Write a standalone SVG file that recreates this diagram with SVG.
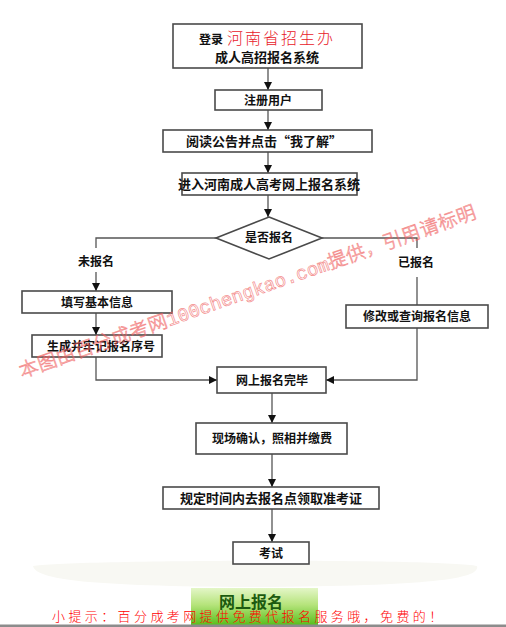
<svg xmlns="http://www.w3.org/2000/svg" width="506" height="627" viewBox="0 0 506 627">
<defs>
<style>
.box{fill:#fff;stroke:#4a4a4a;stroke-width:1.6}
.t{font-family:"Noto Sans CJK SC","Liberation Sans",sans-serif;font-size:12px;font-weight:700;fill:#111;text-anchor:middle}
.c{fill:none;stroke:#555;stroke-width:1.3}
</style>
<marker id="ah" viewBox="0 0 10 10" refX="10" refY="5" markerWidth="8" markerHeight="8" markerUnits="userSpaceOnUse" orient="auto">
<path d="M0,0 L10,5 L0,10 Z" fill="#111"/>
</marker>
<linearGradient id="gb" x1="0" y1="0" x2="0" y2="1">
<stop offset="0" stop-color="#e4f6c8"/>
<stop offset="0.45" stop-color="#b6e47c"/>
<stop offset="1" stop-color="#58bf1c"/>
</linearGradient>
</defs>
<rect width="506" height="627" fill="#fff"/>
<path d="M33,566 C60,560 440,558 477,566 C480,578 440,586 250,587 C90,586 36,580 33,566 Z" fill="#f8f8f3"/>

<g id="connectors">
<line class="c" x1="268" y1="68" x2="268" y2="90" marker-end="url(#ah)"/>
<line class="c" x1="268" y1="110" x2="268" y2="130" marker-end="url(#ah)"/>
<line class="c" x1="268" y1="152" x2="268" y2="173" marker-end="url(#ah)"/>
<line class="c" x1="268" y1="195" x2="268" y2="217" marker-end="url(#ah)"/>
<polyline class="c" points="216,238 96,238 96,248"/>
<line class="c" x1="96" y1="272" x2="96" y2="291" marker-end="url(#ah)"/>
<polyline class="c" points="322,238 417,238 417,248"/>
<line class="c" x1="417" y1="277" x2="417" y2="305"/>
<line class="c" x1="96" y1="313" x2="96" y2="335" marker-end="url(#ah)"/>
<polyline class="c" points="96,357 96,380 217,380" marker-end="url(#ah)"/>
<polyline class="c" points="417,328 417,380 326,380" marker-end="url(#ah)"/>
<line class="c" x1="272" y1="393" x2="272" y2="423" marker-end="url(#ah)"/>
<line class="c" x1="272" y1="454" x2="272" y2="487" marker-end="url(#ah)"/>
<line class="c" x1="272" y1="509" x2="272" y2="542" marker-end="url(#ah)"/>
</g>

<g id="n-login">
<rect class="box" x="173" y="24" width="189" height="44"/>
<text x="199" y="44" font-family="Noto Sans CJK SC,sans-serif" font-size="12" font-weight="700" fill="#111">登录<tspan font-size="16" font-weight="300" fill="#e8202a" letter-spacing="2" dx="4">河南省招生办</tspan></text>
<text class="t" x="267" y="62" style="font-size:13px">成人高招报名系统</text>
</g>
<g id="n-register">
<rect class="box" x="215" y="90" width="107" height="20"/>
<text class="t" x="268" y="104.5">注册用户</text>
</g>
<g id="n-read">
<rect class="box" x="163" y="130" width="209" height="22"/>
<text class="t" x="264" y="146" style="font-size:13px">阅读公告并点击“我了解”</text>
</g>
<g id="n-enter">
<rect class="box" x="182" y="173" width="175" height="22"/>
<text class="t" x="269" y="189" style="font-size:13px">进入河南成人高考网上报名系统</text>
</g>
<g id="n-decide">
<polygon points="269,217 322,238 269,259 216,238" fill="#fff" stroke="#4a4a4a" stroke-width="1.6"/>
<text class="t" x="269" y="242">是否报名</text>
</g>
<g id="l-no"><text class="t" x="96" y="266">未报名</text></g>
<g id="l-yes"><text class="t" x="416" y="267">已报名</text></g>
<g id="n-fill">
<rect class="box" x="22" y="291" width="150" height="22"/>
<text class="t" x="97" y="306.5">填写基本信息</text>
</g>
<g id="n-gen">
<rect class="box" x="32" y="335" width="130" height="22"/>
<text class="t" x="101" y="350.5">生成并牢记报名序号</text>
</g>
<g id="n-modify">
<rect class="box" x="346" y="305" width="142" height="23"/>
<text class="t" x="417" y="321">修改或查询报名信息</text>
</g>
<g id="n-done">
<rect class="box" x="217" y="367" width="109" height="26"/>
<text class="t" x="272" y="385">网上报名完毕</text>
</g>
<g id="n-confirm">
<rect class="box" x="196" y="423" width="151" height="31"/>
<text class="t" x="272" y="443">现场确认，照相并缴费</text>
</g>
<g id="n-collect">
<rect class="box" x="163" y="487" width="216" height="22"/>
<text class="t" x="271" y="502.5" style="font-size:13px">规定时间内去报名点领取准考证</text>
</g>
<g id="n-exam">
<rect class="box" x="233" y="542" width="76" height="22"/>
<text class="t" x="271" y="557.5">考试</text>
</g>

<g id="watermark" transform="translate(22,378) rotate(-19.4)" opacity="0.7">
<text x="0" y="0" font-family="Noto Sans CJK SC,sans-serif" font-size="19" font-weight="300" fill="none" stroke="#f06060" stroke-width="0.7" letter-spacing="0.5">本图由百分成考网<tspan font-family="Liberation Mono,monospace" letter-spacing="0">100chengkao.com</tspan>提供，引用请标明</text>
</g>

<g id="button">
<rect x="191" y="588" width="127" height="37" fill="url(#gb)"/>
<text x="251" y="608" font-family="Noto Sans CJK SC,sans-serif" font-size="16" font-weight="700" fill="#1c5a10" text-anchor="middle">网上报名</text>
</g>
<text x="52" y="621" font-family="Noto Sans CJK SC,sans-serif" font-size="13" font-weight="300" fill="#ff0000" letter-spacing="3.4">小提示：百分成考网提供免费代报名服务哦，免费的！</text>
<rect x="0" y="624.5" width="506" height="2.5" fill="#8c8c8c"/>
</svg>
